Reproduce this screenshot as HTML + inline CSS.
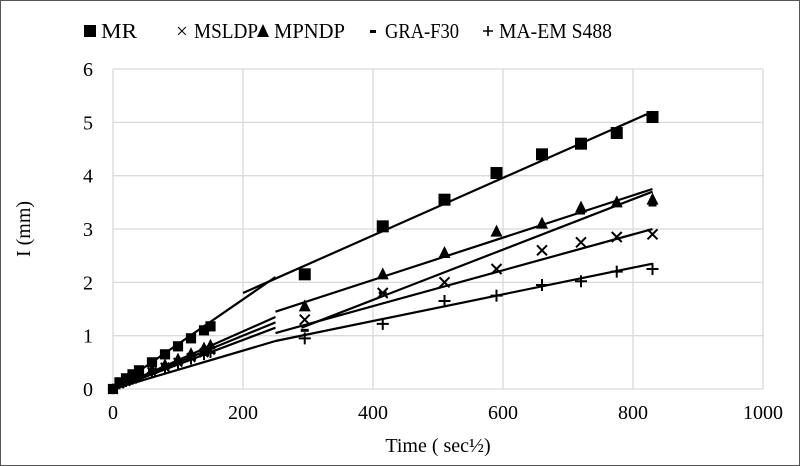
<!DOCTYPE html>
<html><head><meta charset="utf-8"><style>
body{margin:0;background:#fff}
svg{display:block;font-family:"Liberation Serif",serif}
</style></head><body>
<svg id="s" width="800" height="466" viewBox="0 0 800 466" xmlns="http://www.w3.org/2000/svg">
<rect x="0.5" y="0.5" width="799" height="465" fill="#fff" stroke="#555"/>
<g id="grid" stroke="#d9d9d9" stroke-width="1.3"></g>
<g id="lab" font-size="20" fill="#000"></g>
<g id="data"></g>
<text x="30" y="229" font-size="20" text-anchor="middle" transform="rotate(-90 30 229)">I (mm)</text>
<text x="438" y="452" font-size="20" text-anchor="middle">Time ( sec½)</text>
<g font-size="21">
<rect x="84" y="25" width="12" height="12" fill="#000"/><text x="101" y="38" textLength="36" lengthAdjust="spacingAndGlyphs">MR</text>
<text x="176" y="38">×</text><text x="194" y="38" textLength="64" lengthAdjust="spacingAndGlyphs">MSLDP</text>
<polygon points="263,24 269,37 257,37" fill="#000"/><text x="274" y="38" textLength="71" lengthAdjust="spacingAndGlyphs">MPNDP</text>
<rect x="370" y="30" width="6" height="3" fill="#000"/><text x="385" y="38" textLength="74" lengthAdjust="spacingAndGlyphs">GRA-F30</text>
<path d="M483 31L493 31M488 26L488 36" stroke="#000" stroke-width="1.6"/><text x="499" y="38" textLength="113" lengthAdjust="spacingAndGlyphs">MA-EM S488</text>
</g>
</svg>
<script>
const NS="http://www.w3.org/2000/svg";
const X=v=>113+0.65*v, Y=v=>389-53.33*v;
const g=document.getElementById('grid'),lab=document.getElementById('lab'),d=document.getElementById('data');
function el(p,t,a){const e=document.createElementNS(NS,t);for(const k in a)e.setAttribute(k,a[k]);p.appendChild(e);return e;}
for(let i=0;i<=6;i++){el(g,'line',{x1:X(0),x2:X(1000),y1:Y(i),y2:Y(i)});const t=el(lab,'text',{x:X(0)-20,y:Y(i)+7,'text-anchor':'end'});t.textContent=i;}
for(let i=0;i<=1000;i+=200){el(g,'line',{x1:X(i),x2:X(i),y1:Y(0),y2:Y(6)});const t=el(lab,'text',{x:X(i),y:419,'text-anchor':'middle'});t.textContent=i;}
function line(x1,y1,x2,y2){el(d,'line',{x1:X(x1),y1:Y(y1),x2:X(x2),y2:Y(y2),stroke:'#000','stroke-width':2.2});}
function mk(type,x,y,s){s=s||1;const cx=X(x),cy=Y(y);
 if(type=='sq')el(d,'rect',{x:cx-6*s,y:cy-6*s,width:12*s,height:12*s,fill:'#000'});
 if(type=='tri')el(d,'polygon',{points:`${cx},${cy-7*s} ${cx+6*s},${cy+5*s} ${cx-6*s},${cy+5*s}`,fill:'#000'});
 if(type=='x'){el(d,'path',{d:`M${cx-5*s} ${cy-5*s}L${cx+5*s} ${cy+5*s}M${cx+5*s} ${cy-5*s}L${cx-5*s} ${cy+5*s}`,stroke:'#000','stroke-width':2});}
 if(type=='+'){el(d,'path',{d:`M${cx-6*s} ${cy}L${cx+6*s} ${cy}M${cx} ${cy-6*s}L${cx} ${cy+6*s}`,stroke:'#000','stroke-width':2});}
 if(type=='-')el(d,'rect',{x:cx-4,y:cy-1.5,width:8,height:3,fill:'#000'});
}
const late=[295,415,510,590,660,720,775,830];
const early=[0,10,20,30,40,60,80,100,120,140,150];
const S={
 sq:{e:0.0075,l:[2.15,3.05,3.55,4.05,4.4,4.6,4.8,5.1]},
 tri:{e:0.0052,l:[1.55,2.15,2.55,2.95,3.1,3.4,3.5,3.55]},
 '-':{e:0.0048,l:[1.1,1.8,2.5,2.9,3.05,3.3,3.45,3.45]},
 x:{e:0.0045,l:[1.3,1.8,2.0,2.25,2.6,2.75,2.85,2.9]},
 '+':{e:0.0042,l:[0.95,1.22,1.65,1.75,1.95,2.02,2.2,2.25]}
};
line(0,0,250,2.1);line(200,1.8,830,5.2);
line(0,0,250,1.35);line(250,1.45,830,3.75);
line(0,0,250,1.25);line(290,1.15,830,3.7);
line(0,0,250,1.15);line(250,1.05,830,3.0);
line(0,0,250,0.9);line(250,0.9,830,2.35);
for(const k in S){early.forEach(x=>mk(k,x,S[k].e*x+(x?0.05:0),0.85));late.forEach((x,i)=>mk(k,x,S[k].l[i]));}
</script>
</body></html>
